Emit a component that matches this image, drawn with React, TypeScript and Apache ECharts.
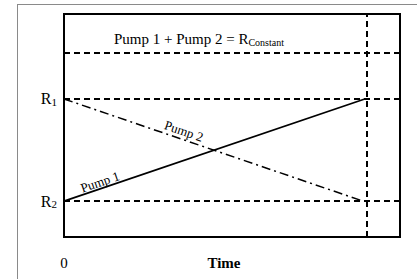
import React, { useEffect, useRef } from "react";
import * as echarts from "echarts";

const levelNames = ["R_Constant", "R1", "R2"];
const levelValues = [8.25, 6.19, 1.61];
const timeMarker = 9.0;
const pump1X = [0, 8.95];
const pump1Y = [1.61, 6.19];
const pump2X = [0, 8.9];
const pump2Y = [6.19, 1.61];
const xTickLabels = ["0"];
const seriesLabels = ["Pump 1", "Pump 2"];

const SERIF = "'Liberation Serif', 'Times New Roman', serif";

export default function App() {
  const ref = useRef<HTMLDivElement>(null);
  useEffect(() => {
    if (!ref.current) return;
    const chart = echarts.init(ref.current, null, { renderer: "svg" });
    const dash = { color: "#000", width: 2, type: [6, 4] as any };
    const yTicks = [levelValues[2], levelValues[1]];
    const yTickNames = ["{r|R}{s|2}", "{r|R}{s|1}"];
    const labelStyle = {
      show: true,
      position: "inside",
      fontFamily: SERIF,
      fontSize: 13,
      color: "#000",
      opacity: 1,
      textBorderWidth: 0,
    };
    chart.setOption({
      animation: false,
      textStyle: { fontFamily: SERIF },
      grid: {
        left: 64,
        right: 17,
        top: 14,
        bottom: 42,
        show: true,
        containLabel: false,
        outerBoundsMode: "none",
        borderColor: "#000",
        borderWidth: 2,
        backgroundColor: "transparent",
      },
      xAxis: {
        type: "value",
        min: 0,
        max: 10,
        axisLine: { show: false },
        axisTick: { show: false },
        splitLine: { show: false },
        axisLabel: {
          customValues: [0],
          formatter: () => xTickLabels[0],
          fontFamily: SERIF,
          fontSize: 15,
          color: "#000",
          margin: 18,
        },
        name: "Time",
        nameLocation: "middle",
        nameGap: 18,
        nameMoveOverlap: false,
        nameTextStyle: {
          fontFamily: SERIF,
          fontSize: 15,
          fontWeight: "bold",
          color: "#000",
          verticalAlign: "top",
          padding: [0, 16, 0, 0],
        },
      },
      yAxis: {
        type: "value",
        min: 0,
        max: 10,
        axisLine: { show: false },
        axisTick: { show: false },
        splitLine: { show: false },
        axisLabel: {
          customValues: yTicks,
          formatter: (v: number) => {
            const i = yTicks.findIndex((t) => Math.abs(t - v) < 1e-6);
            return i >= 0 ? yTickNames[i] : "";
          },
          margin: 7,
          rich: {
            r: { fontFamily: SERIF, fontSize: 16, color: "#000" },
            s: { fontFamily: SERIF, fontSize: 11, color: "#000", verticalAlign: "bottom", padding: [6, 0, 0, 0] },
          },
        },
      },
      series: [
        {
          type: "line",
          name: seriesLabels[0],
          data: pump1X.map((x, i) => [x, pump1Y[i]]),
          symbol: "none",
          lineStyle: { color: "#000", width: 1.7 },
          markLine: {
            silent: true,
            symbol: "none",
            label: { show: false },
            lineStyle: dash,
            data: [
              { yAxis: levelValues[0] },
              { yAxis: levelValues[1] },
              { yAxis: levelValues[2] },
              { xAxis: timeMarker },
            ],
          },
        },
        {
          type: "line",
          name: seriesLabels[1],
          data: pump2X.map((x, i) => [x, pump2Y[i]]),
          symbol: "none",
          lineStyle: { color: "#000", width: 1.5, type: [9, 4, 2, 4] as any },
        },
        {
          type: "scatter",
          symbolSize: 0,
          itemStyle: { opacity: 1, color: "#000" },
          data: [[1.07, 2.47]],
          label: { ...labelStyle, formatter: seriesLabels[0], rotate: 19 },
        },
        {
          type: "scatter",
          symbolSize: 0,
          itemStyle: { opacity: 1, color: "#000" },
          data: [[3.57, 4.75]],
          label: { ...labelStyle, formatter: seriesLabels[1], rotate: -19 },
        },
      ],
      graphic: [
        {
          type: "line",
          shape: { x1: 17, y1: 4.5, x2: 417, y2: 4.5 },
          style: { stroke: "#8a8a8a", lineWidth: 1 },
        },
        {
          type: "line",
          shape: { x1: 17.5, y1: 4, x2: 17.5, y2: 279 },
          style: { stroke: "#8a8a8a", lineWidth: 1 },
        },
        {
          type: "text",
          x: 199,
          y: 39,
          style: {
            text: "{a|Pump 1 + Pump 2 = R}{b|Constant}",
            align: "center",
            verticalAlign: "middle",
            rich: {
              a: { fontFamily: SERIF, fontSize: 15, fill: "#000" },
              b: { fontFamily: SERIF, fontSize: 10, fill: "#000", padding: [6, 0, 0, 0] },
            },
          },
        },
      ],
    });
    return () => chart.dispose();
  }, []);
  return (
    <div
      ref={ref}
      style={{ position: "fixed", left: 0, top: 0, width: 417, height: 279, background: "#fff" }}
    />
  );
}
